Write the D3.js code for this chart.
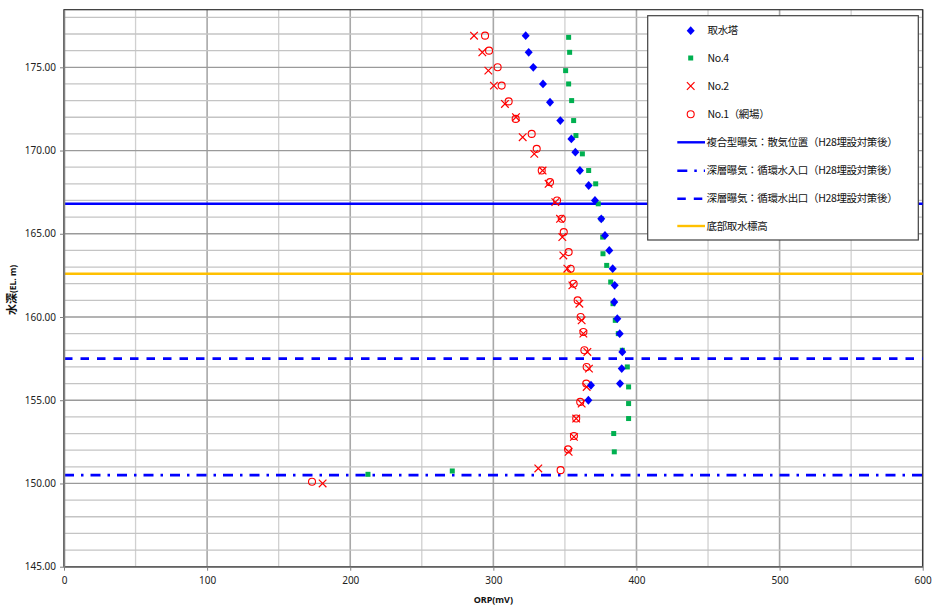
<!DOCTYPE html>
<html>
<head>
<meta charset="utf-8">
<script src="https://cdn.jsdelivr.net/npm/d3@7/dist/d3.min.js"></script>
<style>
  html, body { margin: 0; padding: 0; background: #fff; }
  svg { display: block; }
  text { font-family: "Noto Sans", "Noto Sans CJK JP", sans-serif; }
</style>
</head>
<body>
<svg id="chart" width="936" height="608"></svg>
<script>
// ORP profiles (mV) against elevation (EL. m)
const towerORP = [322.6, 324.7, 327.9, 334.7, 339.6, 346.8, 354.5, 357.3, 360.5, 366.6, 371.0, 375.4, 378.0, 381.0, 383.4, 384.8, 384.5, 386.6, 388.3, 390.1, 389.7, 388.5, 368.2, 366.4];
const towerEL  = [176.9, 175.9, 175.0, 174.0, 172.9, 171.8, 170.7, 169.9, 168.8, 167.9, 167.0, 165.9, 164.9, 164.0, 162.9, 161.9, 160.9, 159.9, 159.0, 157.9, 156.9, 156.0, 155.9, 155.0];

const no4ORP = [352.6, 353.3, 350.5, 352.6, 354.7, 356.1, 357.7, 362.2, 366.6, 371.5, 373.3, 375.4, 376.4, 376.6, 379.2, 382.0, 383.6, 385.2, 387.3, 390.1, 393.6, 394.5, 394.5, 394.5, 384.1, 384.5, 271.3, 212.4];
const no4EL  = [176.8, 175.9, 174.8, 174.0, 173.0, 171.8, 170.9, 169.8, 168.8, 168.0, 166.8, 165.9, 164.8, 163.8, 163.1, 162.1, 160.8, 159.8, 159.0, 158.0, 157.0, 155.8, 154.8, 153.9, 153.0, 151.9, 150.75, 150.55];

const no2ORP = [286.5, 292.3, 296.5, 300.4, 308.1, 315.8, 320.5, 328.6, 334.4, 338.6, 343.3, 346.6, 348.2, 348.9, 351.7, 355.2, 360.1, 361.7, 362.9, 365.7, 366.8, 365.2, 361.7, 357.9, 356.3, 352.6, 331.4, 180.7];
const no2EL  = [176.9, 175.9, 174.8, 173.9, 172.8, 172.0, 170.8, 169.8, 168.8, 168.0, 166.9, 165.9, 164.8, 163.7, 162.9, 161.9, 160.8, 159.8, 159.0, 157.9, 156.9, 155.8, 154.8, 153.9, 152.8, 151.9, 150.9, 150.0];

const no1ORP = [294.2, 297.0, 303.0, 305.8, 310.7, 315.6, 326.8, 330.3, 333.8, 339.6, 344.5, 347.8, 349.2, 352.6, 354.0, 356.1, 358.9, 361.0, 362.9, 363.6, 365.2, 364.9, 360.7, 357.9, 356.3, 352.2, 347.0, 173.3];
const no1EL  = [176.9, 176.0, 175.0, 173.9, 172.95, 171.9, 171.0, 170.1, 168.8, 168.1, 167.0, 165.9, 165.1, 163.9, 162.9, 162.0, 161.0, 160.0, 159.1, 158.0, 157.0, 156.0, 154.9, 153.9, 152.85, 152.05, 150.8, 150.1];

// Reference elevations (EL. m)
const aerationEL = 166.8;  // 複合型曝気：散気位置
const inletEL    = 150.5;  // 深層曝気：循環水入口
const outletEL   = 157.5;  // 深層曝気：循環水出口
const intakeEL   = 162.6;  // 底部取水標高

const xTicks = [0, 100, 200, 300, 400, 500, 600];
const yTicks = [145, 150, 155, 160, 165, 170, 175];

const seriesNames = ["取水塔", "No.4", "No.2", "No.1（網場）"];
const lineNames = ["複合型曝気：散気位置（H28埋設対策後）", "深層曝気：循環水入口（H28埋設対策後）", "深層曝気：循環水出口（H28埋設対策後）", "底部取水標高"];

const svg = d3.select("#chart");
const plotL = 64, plotR = 922.7, plotT = 9.7, plotB = 566.7;

const x = d3.scaleLinear().domain([0, 600]).range([plotL, plotR]);
const y = d3.scaleLinear().domain([145, 178.46]).range([plotB, plotT]);

// Gridlines
const g = svg.append("g");
d3.range(0, 601, 50).forEach(v => {
  const major = v % 100 === 0;
  g.append("line")
    .attr("x1", x(v)).attr("x2", x(v)).attr("y1", plotT).attr("y2", plotB)
    .attr("stroke", major ? "#a8a8a8" : "#d0d0d0")
    .attr("stroke-width", major ? 1.6 : 1.3);
});
d3.range(146, 179, 1).forEach(v => {
  const major = v % 5 === 0;
  g.append("line")
    .attr("x1", plotL).attr("x2", plotR).attr("y1", y(v)).attr("y2", y(v))
    .attr("stroke", major ? "#9a9a9a" : "#c4c4c4")
    .attr("stroke-width", 1.3);
});

// Plot frame
svg.append("rect")
  .attr("x", plotL).attr("y", plotT).attr("width", plotR - plotL).attr("height", plotB - plotT)
  .attr("fill", "none").attr("stroke", "#303030").attr("stroke-width", 1.2);

// Horizontal reference lines
const refLines = [
  { v: aerationEL, color: "#0000ff", dash: null, w: 2.4 },
  { v: inletEL,    color: "#0000ff", dash: "10,7,2.5,7", w: 2.6 },
  { v: outletEL,   color: "#0000ff", dash: "8.5,8", w: 2.6 },
  { v: intakeEL,   color: "#ffc000", dash: null, w: 2.4 }
];
refLines.forEach(r => {
  svg.append("line")
    .attr("x1", plotL).attr("x2", plotR).attr("y1", y(r.v)).attr("y2", y(r.v))
    .attr("stroke", r.color).attr("stroke-width", r.w)
    .attr("stroke-dasharray", r.dash);
});

// Axes
const yAxis = svg.append("g").attr("transform", `translate(${plotL},0)`)
  .call(d3.axisLeft(y).tickValues(yTicks).tickFormat(d3.format(".2f")).tickSize(4).tickSizeOuter(0));
const xAxis = svg.append("g").attr("transform", `translate(0,${plotB})`)
  .call(d3.axisBottom(x).tickValues(xTicks).tickFormat(d3.format("d")).tickSize(4).tickSizeOuter(0));
[yAxis, xAxis].forEach(a => {
  a.select(".domain").attr("stroke", "#808080").attr("stroke-width", 1.5);
  a.selectAll(".tick line").attr("stroke", "#808080");
  a.selectAll(".tick text").attr("fill", "#222").style("font-size", "10px")
    .style("font-family", "'Noto Sans', sans-serif");
});
yAxis.selectAll(".tick text").attr("x", -8);
xAxis.selectAll(".tick text").attr("y", 10);

// Axis titles
svg.append("text")
  .attr("x", x(300)).attr("y", 603)
  .attr("text-anchor", "middle")
  .style("font-size", "9px").style("font-weight", "bold").attr("fill", "#111")
  .text("ORP(mV)");
const yt = svg.append("text")
  .attr("transform", `translate(16,290) rotate(-90)`)
  .attr("text-anchor", "middle")
  .style("font-weight", "bold").attr("fill", "#111");
yt.append("tspan").style("font-size", "11px").text("水深");
yt.append("tspan").style("font-size", "8.5px").text("(EL. m)");

// Markers
function drawDiamond(sel, px, py) {
  const w = 4, h = 4.4;
  sel.append("path")
    .attr("d", `M${px},${py - h}L${px + w},${py}L${px},${py + h}L${px - w},${py}Z`)
    .attr("fill", "#0000ff");
}
function drawSquare(sel, px, py) {
  sel.append("rect").attr("x", px - 2.5).attr("y", py - 2.5).attr("width", 5).attr("height", 5)
    .attr("fill", "#00b050");
}
function drawCross(sel, px, py) {
  const s = 3.8;
  sel.append("path")
    .attr("d", `M${px - s},${py - s}L${px + s},${py + s}M${px - s},${py + s}L${px + s},${py - s}`)
    .attr("stroke", "#ff0000").attr("stroke-width", 1.2).attr("fill", "none");
}
function drawCircle(sel, px, py) {
  sel.append("circle").attr("cx", px).attr("cy", py).attr("r", 3.5)
    .attr("fill", "none").attr("stroke", "#ff0000").attr("stroke-width", 1.1);
}

const marks = svg.append("g");
no1ORP.forEach((v, i) => drawCircle(marks, x(v), y(no1EL[i])));
no2ORP.forEach((v, i) => drawCross(marks, x(v), y(no2EL[i])));
no4ORP.forEach((v, i) => drawSquare(marks, x(v), y(no4EL[i])));
towerORP.forEach((v, i) => drawDiamond(marks, x(v), y(towerEL[i])));

// Legend
const lg = svg.append("g");
lg.append("rect").attr("x", 647.7).attr("y", 15.7).attr("width", 270.6).attr("height", 224.3)
  .attr("fill", "#fff").attr("stroke", "#404040").attr("stroke-width", 1.2);
const rowY = [30.7, 58, 86, 114.3, 142.3, 170.7, 198.7, 226];
const symX = 690.7, textX = 707.5;
drawDiamond(lg, symX, rowY[0]);
drawSquare(lg, symX, rowY[1]);
drawCross(lg, symX, rowY[2]);
drawCircle(lg, symX, rowY[3]);
refLines.forEach((r, i) => {
  lg.append("line")
    .attr("x1", 677.3).attr("x2", 705).attr("y1", rowY[4 + i]).attr("y2", rowY[4 + i])
    .attr("stroke", r.color).attr("stroke-width", r.w)
    .attr("stroke-dasharray", r.dash);
});
seriesNames.concat(lineNames).forEach((t, i) => {
  lg.append("text").attr("x", i < 4 ? textX : textX - 1).attr("y", rowY[i]).attr("dy", "0.36em")
    .style("font-size", "10.5px").style("font-family", "'Noto Sans CJK JP', sans-serif")
    .style("letter-spacing", "-0.35px")
    .attr("fill", "#111").text(t);
});
</script>
</body>
</html>
